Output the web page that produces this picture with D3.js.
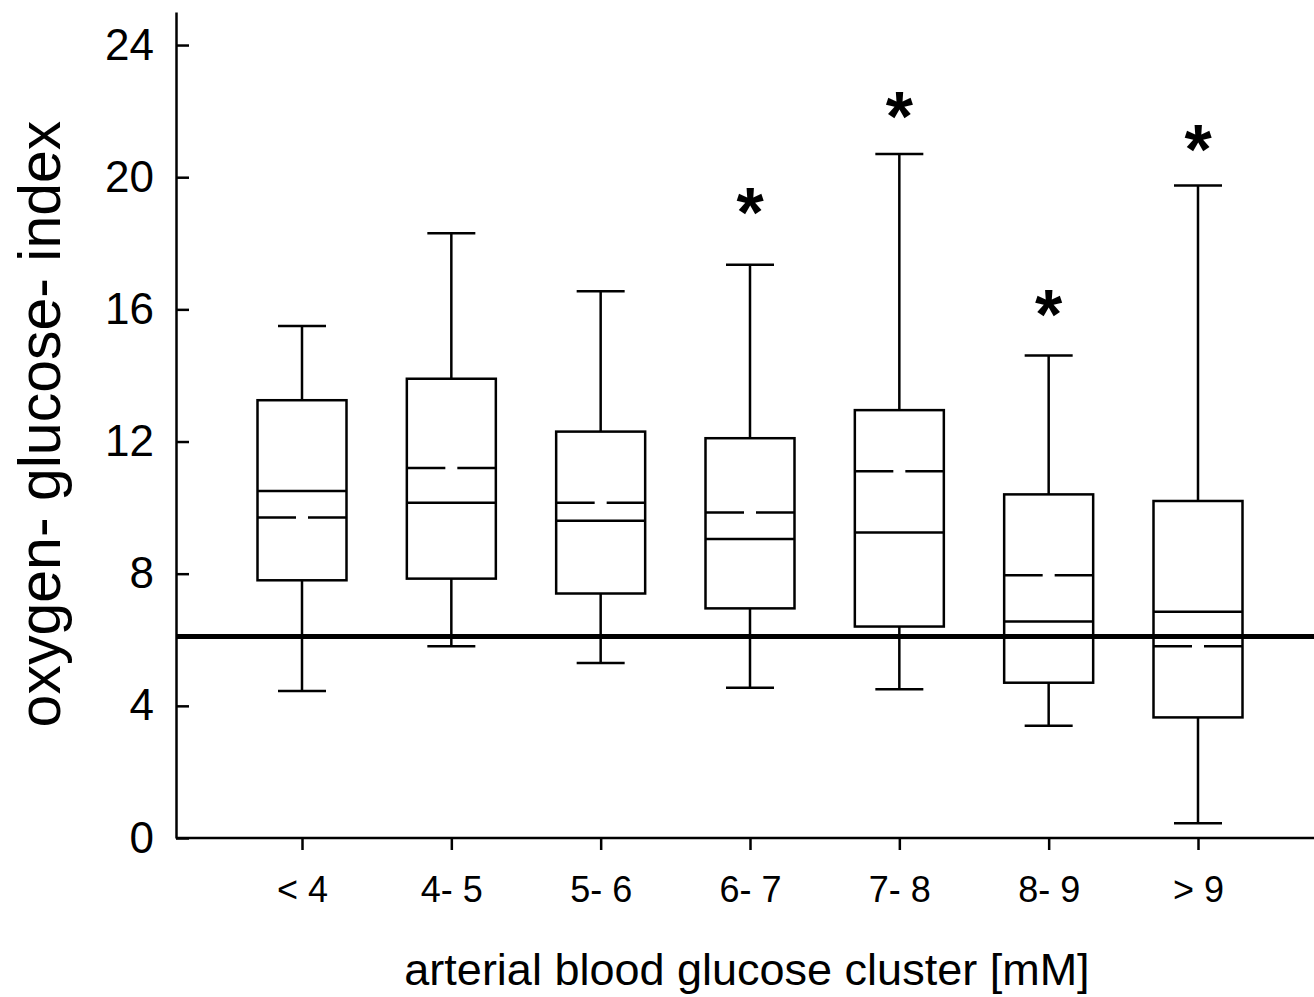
<!DOCTYPE html>
<head>
    <meta charset="utf-8">
    <title>oxygen-glucose-index box plot</title>
    <style>
        body { margin: 0; background: #fff; }
        text { font-family: "Liberation Sans", Arial, Helvetica, sans-serif; fill: #000; }
    </style>
</head>
<body>
    <script src="https://d3js.org/d3.v7.min.js"></script>
    <script>

        // values
        var categories = ["< 4", "4- 5", "5- 6", "6- 7", "7- 8", "8- 9", "> 9"];
        var whiskerHigh = [15.5, 18.3, 16.55, 17.35, 20.7, 14.6, 19.75];
        var q3 = [13.25, 13.9, 12.3, 12.1, 12.95, 10.4, 10.2];
        var median = [10.5, 10.15, 9.6, 9.05, 9.25, 6.55, 6.85];
        var mean = [9.7, 11.2, 10.15, 9.85, 11.1, 7.95, 5.8];
        var q1 = [7.8, 7.85, 7.4, 6.95, 6.4, 4.7, 3.65];
        var whiskerLow = [4.45, 5.8, 5.3, 4.55, 4.5, 3.4, 0.45];
        var starAt = [null, null, null, 19.2, 22.1, 16.1, 21.1];
        var yTicks = [0, 4, 8, 12, 16, 20, 24];
        var threshold = 6.1;

        var margin = { top: 12, right: 0, bottom: 159, left: 176 },
            width = 1314 - margin.left - margin.right,
            height = 997 - margin.top - margin.bottom;

        var boxW = 89, capW = 48, gapW = 12;

        var x = d3.scalePoint()
            .domain(categories)
            .range([126, 1022]);

        var y = d3.scaleLinear()
            .domain([0, 25])
            .range([height, 0]);

        var svg = d3.select('body').append('svg')
            .attr('width', width + margin.left + margin.right)
            .attr('height', height + margin.top + margin.bottom)
            .append('g')
            .attr('transform', 'translate(' + margin.left + ',' + margin.top + ')');

        var data = categories.map(function (c, i) {
            return {
                cat: c, hi: whiskerHigh[i], q3: q3[i], med: median[i],
                mean: mean[i], q1: q1[i], lo: whiskerLow[i], star: starAt[i]
            };
        });

        // axes
        var yAxis = d3.axisLeft(y)
            .tickValues(yTicks)
            .tickSizeInner(-13)
            .tickSizeOuter(0)
            .tickPadding(22);

        var xAxis = d3.axisBottom(x)
            .tickSizeInner(12)
            .tickSizeOuter(0)
            .tickPadding(26);

        var gy = svg.append('g').attr('class', 'y axis').call(yAxis);
        var gx = svg.append('g').attr('class', 'x axis')
            .attr('transform', 'translate(0,' + height + ')')
            .call(xAxis);

        gx.select('.domain').attr('d', 'M0,0H' + width);

        [gx, gy].forEach(function (g) {
            g.select('.domain').attr('stroke', '#000').attr('stroke-width', 2.5);
            g.selectAll('.tick line').attr('stroke', '#000').attr('stroke-width', 2.5);
            g.selectAll('.tick text').attr('fill', '#000')
                .style('font-family', '"Liberation Sans", Arial, sans-serif');
        });
        gy.selectAll('.tick text').style('font-size', '44px');
        gx.selectAll('.tick text').style('font-size', '36px');

        // boxes
        var box = svg.selectAll('.box')
            .data(data)
            .enter().append('g')
            .attr('class', 'box')
            .attr('transform', function (d) { return 'translate(' + x(d.cat) + ',0)'; });

        box.append('line')
            .attr('x1', 0).attr('x2', 0)
            .attr('y1', function (d) { return y(d.hi); })
            .attr('y2', function (d) { return y(d.lo); });

        box.append('rect')
            .attr('x', -boxW / 2)
            .attr('width', boxW)
            .attr('y', function (d) { return y(d.q3); })
            .attr('height', function (d) { return y(d.q1) - y(d.q3); })
            .attr('fill', '#fff');

        box.selectAll('.cap')
            .data(function (d) { return [d.hi, d.lo]; })
            .enter().append('line')
            .attr('class', 'cap')
            .attr('x1', -capW / 2).attr('x2', capW / 2)
            .attr('y1', function (v) { return y(v); })
            .attr('y2', function (v) { return y(v); });

        box.append('line')
            .attr('x1', -boxW / 2).attr('x2', boxW / 2)
            .attr('y1', function (d) { return y(d.med); })
            .attr('y2', function (d) { return y(d.med); });

        box.append('line')
            .attr('x1', -boxW / 2).attr('x2', boxW / 2)
            .attr('y1', function (d) { return y(d.mean); })
            .attr('y2', function (d) { return y(d.mean); })
            .attr('stroke-dasharray', ((boxW - gapW) / 2) + ',' + gapW);

        box.selectAll('line, rect')
            .attr('stroke', '#000')
            .attr('stroke-width', 2.5);

        // significance stars
        box.filter(function (d) { return d.star !== null; })
            .append('text')
            .attr('text-anchor', 'middle')
            .attr('y', function (d) { return y(d.star) + 33; })
            .style('font-size', '70px')
            .style('font-weight', 'bold')
            .text('*');

        // reference line
        svg.append('line')
            .attr('x1', 0).attr('x2', width)
            .attr('y1', y(threshold)).attr('y2', y(threshold))
            .attr('stroke', '#000')
            .attr('stroke-width', 5);

        // axis titles
        svg.append('text')
            .attr('x', 747 - margin.left)
            .attr('y', 985 - margin.top)
            .attr('text-anchor', 'middle')
            .style('font-size', '45px')
            .text('arterial blood glucose cluster [mM]');

        svg.append('text')
            .attr('transform', 'translate(' + (60 - margin.left) + ',' + (424 - margin.top) + ') rotate(-90)')
            .attr('text-anchor', 'middle')
            .style('font-size', '59px')
            .text('oxygen- glucose- index');

    </script>
</body>
